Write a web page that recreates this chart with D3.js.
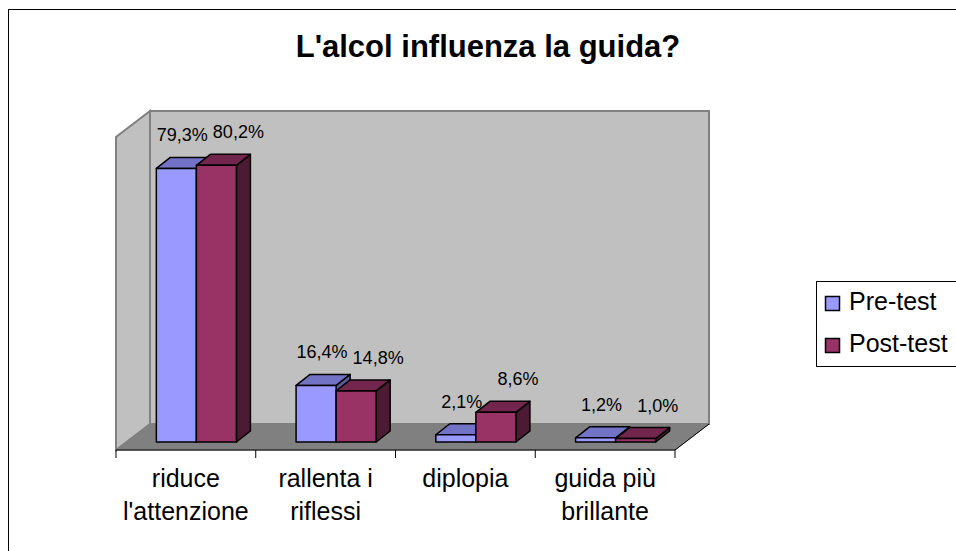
<!DOCTYPE html>
<html><head><meta charset="utf-8">
<script src="https://cdn.jsdelivr.net/npm/d3@7"></script>
<style>body{margin:0;background:#fff}svg{display:block;font-family:"Liberation Sans",Arial,sans-serif}</style>
</head><body>
<svg id="c" width="956" height="551"></svg>
<script>
const title = "L'alcol influenza la guida?";
const categories = [["riduce","l'attenzione"],["rallenta i","riflessi"],["diplopia"],["guida più","brillante"]];
const seriesNames = ["Pre-test","Post-test"];
const preTest = [79.3, 16.4, 2.1, 1.2];
const postTest = [80.2, 14.8, 8.6, 1.0];
const valueLabelsPre = ["79,3%","16,4%","2,1%","1,2%"];
const valueLabelsPost = ["80,2%","14,8%","8,6%","1,0%"];

const colors = {
  "Pre-test": {front:"#9999FF", top:"#7373C6", side:"#5C5C99"},
  "Post-test": {front:"#993366", top:"#73264D", side:"#4D1A33"}
};

const svg = d3.select("#c");
// outer chart border
svg.append("rect").attr("x",8.5).attr("y",9.5).attr("width",1000).attr("height",600)
  .attr("fill","#fff").attr("stroke","#000").attr("stroke-width",1);

// title
svg.append("text").attr("x",488).attr("y",57).attr("text-anchor","middle")
  .attr("font-size",31).attr("font-weight","bold").text(title);

// geometry
const floorY = 450, left = 116, right = 675, DX = 34, DY = 26;
const wallTop = 111; // back wall top
const x0 = d3.scaleBand().domain(d3.range(categories.length)).range([left, right]);
const bw = x0.bandwidth();
const x1 = d3.scaleBand().domain(seriesNames).range([(bw - bw*0.573)/2, (bw + bw*0.573)/2]);
const yH = d3.scaleLinear().domain([0,100]).range([0,345]);
// bar depth placement
const ox = 10.5, oy = 8, bdx = 14, bdy = 11;

const g = svg.append("g");
// left wall
g.append("polygon").attr("points",[[left,floorY],[left,wallTop+DY],[left+DX,wallTop],[left+DX,floorY-DY]].join(" "))
  .attr("fill","#C0C0C0").attr("stroke","#808080").attr("stroke-width",2);
// back wall
g.append("polygon").attr("points",[[left+DX,wallTop],[right+DX,wallTop],[right+DX,floorY-DY],[left+DX,floorY-DY]].join(" "))
  .attr("fill","#C0C0C0").attr("stroke","#808080").attr("stroke-width",2);
// floor
g.append("polygon").attr("points",[[left,floorY],[left+DX,floorY-DY],[right+DX,floorY-DY],[right,floorY]].join(" "))
  .attr("fill","#808080").attr("stroke","#808080").attr("stroke-width",1);
g.append("polyline").attr("points",[[left,floorY],[right,floorY],[right+DX,floorY-DY]].join(" "))
  .attr("fill","none").attr("stroke","#000").attr("stroke-width",1);

// ticks
const bounds = d3.range(categories.length+1).map(i => left + i*bw);
g.selectAll("line.tick").data(bounds).join("line").attr("class","tick")
  .attr("x1",d=>d).attr("x2",d=>d).attr("y1",floorY).attr("y2",floorY+8)
  .attr("stroke","#000").attr("stroke-width",1);

// category labels
categories.forEach((lines,i)=>{
  const t = svg.append("text").attr("text-anchor","middle").attr("font-size",25)
    .attr("x", x0(i)+bw/2).attr("y",487);
  lines.forEach((ln,j)=>t.append("tspan").attr("x",x0(i)+bw/2).attr("y",487+j*33).text(ln));
});

// bars
const data = [];
categories.forEach((c,i)=>{
  data.push({i, s:"Pre-test", v:preTest[i], lab:valueLabelsPre[i]});
  data.push({i, s:"Post-test", v:postTest[i], lab:valueLabelsPost[i]});
});
const bars = g.append("g");
data.forEach(d=>{
  const xL = x0(d.i) + x1(d.s) + ox, xR = xL + x1.bandwidth();
  const yB = floorY - oy, yT = yB - yH(d.v);
  const c = colors[d.s];
  const bg = bars.append("g").attr("stroke","#000").attr("stroke-width",1.5).attr("stroke-linejoin","round");
  // side
  bg.append("polygon").attr("points",[[xR,yB],[xR,yT],[xR+bdx,yT-bdy],[xR+bdx,yB-bdy]].join(" ")).attr("fill",c.side);
  // top
  bg.append("polygon").attr("points",[[xL,yT],[xL+bdx,yT-bdy],[xR+bdx,yT-bdy],[xR,yT]].join(" ")).attr("fill",c.top);
  // front
  bg.append("rect").attr("x",xL).attr("y",yT).attr("width",xR-xL).attr("height",yB-yT).attr("fill",c.front);
  d.cx = (xL+xR)/2; d.top = yT - bdy;
});
// value labels
svg.append("g").selectAll("text").data(data).join("text")
  .attr("font-size",18).attr("text-anchor","middle")
  .attr("x",d=>d.cx + (d.s==="Pre-test"?6:22))
  .attr("y",d=>d.top - 16)
  .text(d=>d.lab);

// legend
const lg = svg.append("g");
lg.append("rect").attr("x",816.5).attr("y",281.5).attr("width",200).attr("height",85)
  .attr("fill","#fff").attr("stroke","#000").attr("stroke-width",1);
seriesNames.forEach((s,k)=>{
  const yy = 296 + k*42;
  lg.append("rect").attr("x",825.5).attr("y",yy+0.5).attr("width",14).attr("height",14)
    .attr("fill",colors[s].front).attr("stroke","#000").attr("stroke-width",1.5);
  lg.append("text").attr("x",849).attr("y",yy+14).attr("font-size",25).text(s);
});
</script>
</body></html>
